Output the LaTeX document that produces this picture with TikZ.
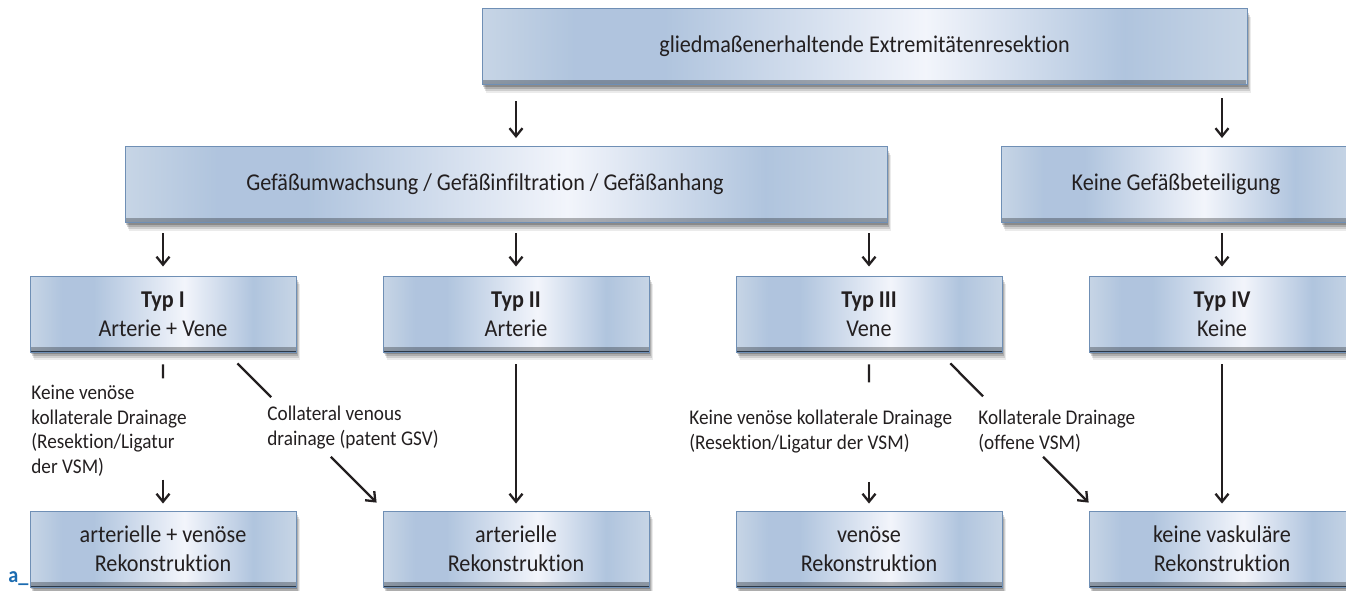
\documentclass[tikz,border=0pt]{standalone}
\usepackage{fontspec}
\setmainfont{Carlito}[FakeStretch=0.92, Ligatures=NoCommon]
\usetikzlibrary{arrows.meta,shadows,calc,fadings}
\definecolor{txt}{HTML}{231F20}
\definecolor{edge}{HTML}{6F8FB5}
\definecolor{alabel}{HTML}{1B6BB0}
\definecolor{bzero}{rgb}{0.78,0.835,0.90}
\definecolor{bone}{rgb}{0.69,0.77,0.87}
\definecolor{bwhite}{rgb}{0.95,0.96,0.985}
\pgfdeclarehorizontalshading{boxshade}{100bp}{color(0bp)=(bzero); color(25bp)=(bzero); color(31bp)=(bone); color(37bp)=(bone); color(54bp)=(bwhite); color(67bp)=(bone); color(75bp)=(bzero); color(100bp)=(bzero)}
\newcommand{\boxfont}{\fontsize{12.05pt}{14.5pt}\selectfont}
\newcommand{\labfont}{\fontsize{10.45pt}{12.3pt}\selectfont}
\tikzset{
  flowbox/.style={rectangle, inner sep=0pt, minimum width=133pt, minimum height=38pt,
    shade, shading=boxshade, draw=edge, line width=0.5pt, align=center,
    font=\boxfont, text=txt,
    general shadow={fill=black, opacity=0.20, shadow xshift=0.6pt, shadow yshift=-1.2pt},
    general shadow={fill=black, opacity=0.16, shadow xshift=1.0pt, shadow yshift=-2.2pt},
    general shadow={fill=black, opacity=0.12, shadow xshift=1.4pt, shadow yshift=-3.2pt},
    general shadow={fill=black, opacity=0.08, shadow xshift=1.8pt, shadow yshift=-4.2pt},
    path picture={\fill[black, opacity=0.3, path fading=north]
      ([yshift=2.5pt]path picture bounding box.south west) rectangle (path picture bounding box.south east);
      \draw[line width=1pt, black!60!edge] (path picture bounding box.south west) -- (path picture bounding box.south east);}},
  conn/.style={line width=1.15pt, draw=txt},
  arr/.style={conn, -{Straight Barb[length=4pt,width=6.5pt]}},
  lab/.style={inner sep=0pt, anchor=north west, align=left, font=\labfont, text=txt}
}
\begin{document}
\begin{tikzpicture}[x=0.5pt,y=-0.5pt]
\useasboundingbox (0,0) rectangle (1346,590);
\clip (0,0) rectangle (1346,590);
% boxes
\node[flowbox, minimum width=382.5pt] (top) at (864.5,46.5) {gliedmaßenerhaltende Extremitätenresektion};
\node[flowbox, minimum width=381pt] (gef) at (506,184.5) {\hspace*{-21pt}Gefäßumwachsung / Gefäßinfiltration / Gefäßanhang};
\node[flowbox, minimum width=175pt] (keine) at (1176,184.5) {Keine Gefäßbeteiligung};
\node[flowbox] (t1) at (163,314) {\textbf{Typ I}\\Arterie + Vene};
\node[flowbox] (t2) at (516,314) {\textbf{Typ II}\\Arterie};
\node[flowbox] (t3) at (869,314) {\textbf{Typ III}\\Vene};
\node[flowbox] (t4) at (1222,314) {\textbf{Typ IV}\\Keine};
\node[flowbox] (r1) at (163,549) {arterielle + venöse\\Rekonstruktion};
\node[flowbox] (r2) at (516,549) {arterielle\\Rekonstruktion};
\node[flowbox] (r3) at (869,549) {venöse\\Rekonstruktion};
\node[flowbox] (r4) at (1222,549) {keine vaskuläre\\Rekonstruktion};
% level 1 -> 2
\draw[arr, shorten <=8pt, shorten >=4pt] (top.south -| t2.north) -- (gef.north -| t2.north);
\draw[arr, shorten <=6.5pt, shorten >=4pt] (top.south -| t4.north) -- (keine.north -| t4.north);
% level 2 -> 3
\draw[arr, shorten <=5pt, shorten >=4.5pt] (gef.south -| t1.north) -- (t1.north);
\draw[arr, shorten <=5pt, shorten >=4.5pt] (gef.south -| t2.north) -- (t2.north);
\draw[arr, shorten <=5pt, shorten >=4.5pt] (gef.south -| t3.north) -- (t3.north);
\draw[arr, shorten <=5pt, shorten >=4.5pt] (keine.south -| t4.north) -- (t4.north);
% level 3 -> 4
\draw[conn] ($(t1.south)!0.075!(r1.north)$) -- ($(t1.south)!0.164!(r1.north)$);
\draw[arr] ($(t1.south)!0.805!(r1.north)$) -- ($(t1.south)!0.956!(r1.north)$);
\draw[arr] ($(t2.south)!0.075!(r2.north)$) -- ($(t2.south)!0.956!(r2.north)$);
\draw[conn] ($(t3.south)!0.075!(r3.north)$) -- ($(t3.south)!0.189!(r3.north)$);
\draw[arr] ($(t3.south)!0.818!(r3.north)$) -- ($(t3.south)!0.956!(r3.north)$);
\draw[arr] ($(t4.south)!0.075!(r4.north)$) -- ($(t4.south)!0.956!(r4.north)$);
% diagonals
\coordinate (da) at ($(t1.south east)+(-70,0)$);
\coordinate (db) at ($(r2.north west)+(2,0)$);
\draw[conn] ($(da)!0.069!(db)$) -- ($(da)!0.283!(db)$);
\draw[arr] ($(da)!0.66!(db)$) -- ($(da)!0.95!(db)$);
\coordinate (dc) at ($(t3.south east)+(-63,0)$);
\coordinate (dd) at ($(r4.north west)+(8,0)$);
\draw[conn] ($(dc)!0.069!(dd)$) -- ($(dc)!0.277!(dd)$);
\draw[arr] ($(dc)!0.66!(dd)$) -- ($(dc)!0.95!(dd)$);
% labels
\node[lab] (l1) at (31,385) {Keine venöse\\kollaterale Drainage\\(Resektion/Ligatur\\der VSM)};
\node[lab] (l2) at (267,406) {Collateral venous\\drainage (patent GSV)};
\node[lab] (l3) at (689,410) {Keine venöse kollaterale Drainage\\(Resektion/Ligatur der VSM)};
\node[lab] (l4) at (978,410) {Kollaterale Drainage\\(offene VSM)};
\node[inner sep=0pt, anchor=base west, font=\bfseries\fontsize{11pt}{12pt}\selectfont, text=alabel] (alab) at (8,582) {a\_};
\end{tikzpicture}
\end{document}
